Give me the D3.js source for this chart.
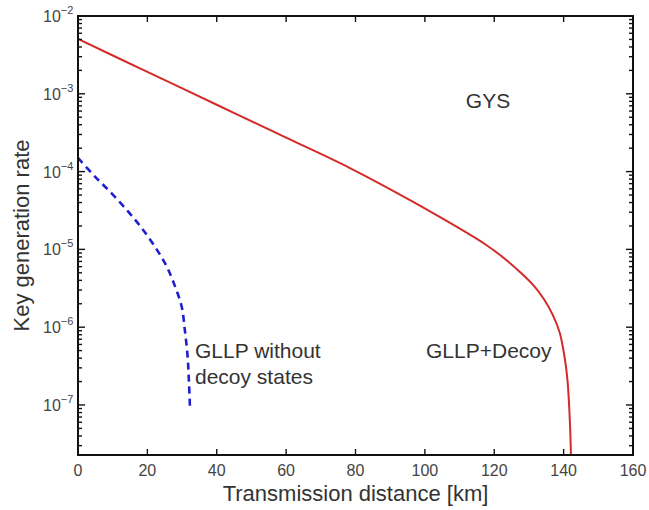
<!DOCTYPE html>
<html><head><meta charset="utf-8">
<script src="https://cdn.jsdelivr.net/npm/d3@7"></script>
<style>body{margin:0;background:#fff}svg{display:block}text{font-family:"Liberation Sans",Arial,sans-serif}</style>
</head><body><svg id="c" width="649" height="510"></svg>
<script>
// Data
const xTicks = [0, 20, 40, 60, 80, 100, 120, 140, 160];
const yTickExps = [-2, -3, -4, -5, -6, -7];
const decoyDist = [0, 20, 40, 60, 78.4, 96.5, 117.7, 123.1, 127.4, 131.2, 134.3, 136.9, 138.9, 140.4, 141.1, 141.5, 141.9, 142.1, 142.2];
const decoyRate = [5.06e-3, 1.91e-3, 7.23e-4, 2.73e-4, 1.11e-4, 4.10e-5, 1.14e-5, 7.53e-6, 5.13e-6, 3.49e-6, 2.30e-6, 1.43e-6, 8.42e-7, 3.79e-7, 2.10e-7, 1.16e-7, 4.77e-8, 2.3e-8, 1.0e-8];
const noDecoyDist = [0, 4.9, 9.7, 14.5, 18.4, 22.2, 25.6, 28.0, 29.9, 30.8, 31.6, 32.0, 32.3];
const noDecoyRate = [1.50e-4, 8.61e-5, 5.26e-5, 3.05e-5, 1.87e-5, 1.08e-5, 6.0e-6, 3.32e-6, 1.83e-6, 9.2e-7, 4.18e-7, 1.90e-7, 8.63e-8];

const svg = d3.select("#c");
const L = 78, R = 633, T = 16, B = 455;
const x = d3.scaleLinear().domain([0, 160]).range([L, R]);
const y = d3.scaleLog().domain([2.275e-8, 1e-2]).range([B, T]);

svg.append("clipPath").attr("id", "clip").append("rect")
  .attr("x", L).attr("y", T).attr("width", R - L).attr("height", B - T);

const line = d3.line().x(d => x(d[0])).y(d => y(d[1])).curve(d3.curveCatmullRom.alpha(0.5));
const g = svg.append("g").attr("clip-path", "url(#clip)");
g.append("path").datum(decoyDist.map((d, i) => [d, decoyRate[i]]))
  .attr("d", line).attr("fill", "none").attr("stroke", "#d42a2a").attr("stroke-width", 2);
g.append("path").datum(noDecoyDist.map((d, i) => [d, noDecoyRate[i]]))
  .attr("d", line).attr("fill", "none").attr("stroke", "#1f1fd0").attr("stroke-width", 2.6)
  .attr("stroke-dasharray", "7,5");

// ticks
const tk = svg.append("g").attr("stroke", "#111").attr("stroke-width", 1.4);
xTicks.forEach(v => {
  tk.append("line").attr("x1", x(v)).attr("x2", x(v)).attr("y1", B).attr("y2", B - 6);
  tk.append("line").attr("x1", x(v)).attr("x2", x(v)).attr("y1", T).attr("y2", T + 6);
});
const minors = [];
for (let e = -8; e <= -3; e++) for (let m = 1; m <= 9; m++) {
  const v = m * Math.pow(10, e);
  if (v >= 2.275e-8 && v <= 1e-2) minors.push([v, m === 1]);
}
minors.push([1e-2, true]);
minors.forEach(([v, major]) => {
  const len = major ? 7 : 4;
  tk.append("line").attr("x1", L).attr("x2", L + len).attr("y1", y(v)).attr("y2", y(v));
  tk.append("line").attr("x1", R).attr("x2", R - len).attr("y1", y(v)).attr("y2", y(v));
});

// frame
svg.append("rect").attr("x", L).attr("y", T).attr("width", R - L).attr("height", B - T)
  .attr("fill", "none").attr("stroke", "#111").attr("stroke-width", 2);

// tick labels
xTicks.forEach(v => {
  svg.append("text").attr("x", x(v)).attr("y", 476).attr("text-anchor", "middle")
    .attr("font-size", 16).attr("fill", "#444").text(v);
});
yTickExps.forEach(e => {
  const t = svg.append("text").attr("x", 43).attr("y", y(Math.pow(10, e)) + 6)
    .attr("font-size", 16).attr("fill", "#444");
  t.append("tspan").text("10");
  t.append("tspan").attr("dy", -8).attr("font-size", 11).text("\u2212" + (-e));
});

// axis titles
svg.append("text").attr("x", (L + R) / 2).attr("y", 501).attr("text-anchor", "middle")
  .attr("font-size", 22).attr("fill", "#333").text("Transmission distance [km]");
svg.append("text").attr("transform", `translate(29,${(T + B) / 2}) rotate(-90)`)
  .attr("text-anchor", "middle").attr("font-size", 22).attr("fill", "#333").text("Key generation rate");

// annotations
svg.append("text").attr("x", 488).attr("y", 108).attr("text-anchor", "middle")
  .attr("font-size", 21).attr("fill", "#333").text("GYS");
svg.append("text").attr("x", 195).attr("y", 358).attr("font-size", 21).attr("fill", "#333").text("GLLP without");
svg.append("text").attr("x", 195).attr("y", 384).attr("font-size", 21).attr("fill", "#333").text("decoy states");
svg.append("text").attr("x", 426).attr("y", 358).attr("font-size", 21).attr("fill", "#333").text("GLLP+Decoy");
</script></body></html>
